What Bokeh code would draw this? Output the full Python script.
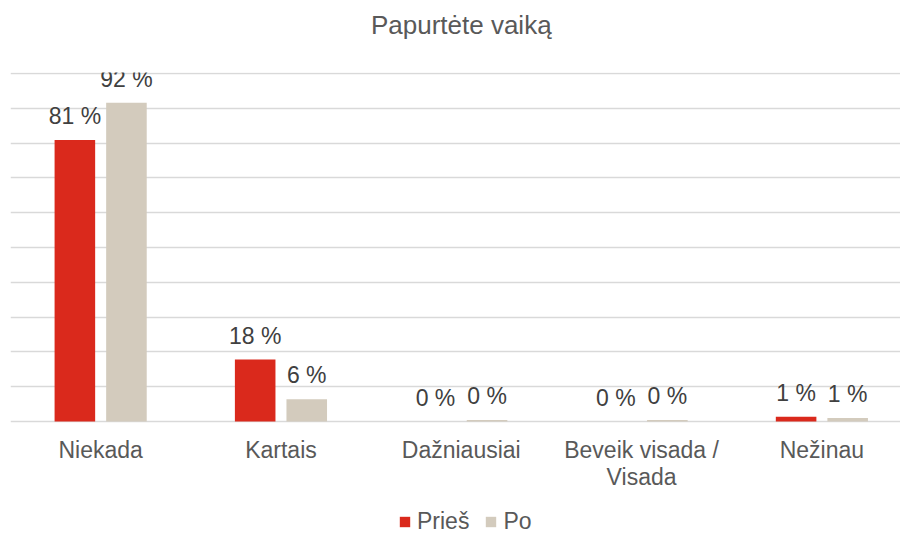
from bokeh.plotting import figure
from bokeh.layouts import column
from bokeh.models import Range1d, FixedTicker, ColumnDataSource, Legend, LegendItem, Label
from bokeh.transform import dodge
from bokeh.core.properties import value
from bokeh.embed import file_html
from bokeh.resources import INLINE

# ---- data ----
title_text = "Papurtėte vaiką"
categories = ["Niekada", "Kartais", "Dažniausiai", "Beveik visada /\nVisada", "Nežinau"]
series_names = ["Prieš", "Po"]
pries = [80.9, 17.8, 0.0, 0.0, 1.4]
po = [91.6, 6.4, 0.4, 0.4, 1.0]
grid_ticks = [0, 10, 20, 30, 40, 50, 60, 70, 80, 90, 100]

# ---- style ----
RED = "#DA291C"
BEIGE = "#D3CBBD"
FONT = "Liberation Sans"
TXT = "#595959"
LBL = "#404040"

idx = list(range(len(categories)))
src = ColumnDataSource(dict(
    x=idx,
    pries=pries,
    po=po,
    pries_lbl=[f"{round(v)} %" for v in pries],
    po_lbl=[f"{round(v)} %" for v in po],
))

xr = Range1d(-0.5, 4.436)

# ---- title strip ----
tt = figure(width=900, height=45, x_range=xr, y_range=Range1d(0, 1),
            output_backend="svg", toolbar_location=None,
            x_axis_location=None, y_axis_location=None,
            min_border_left=10, min_border_right=0, min_border_top=0, min_border_bottom=0)
tt.outline_line_color = None
tt.grid.visible = False
tt.add_layout(Label(x=(len(categories) - 1) / 2, y=21, y_units="screen", text=title_text,
                    text_align="center", text_baseline="middle",
                    text_font=FONT, text_font_size="26px", text_color=TXT))

# ---- main chart ----
p = figure(width=900, height=460, x_range=xr, y_range=Range1d(-2.01, 100.29),
           output_backend="svg", toolbar_location=None, y_axis_location=None,
           min_border_left=10, min_border_right=0, min_border_top=27, min_border_bottom=77)
p.outline_line_color = None
p.background_fill_color = "white"
p.border_fill_color = "white"
p.xgrid.visible = False
p.ygrid.ticker = FixedTicker(ticks=grid_ticks)
p.ygrid.grid_line_color = "#D9D9D9"
p.ygrid.grid_line_width = 1.5

off = 0.143
bw = 0.225
r1 = p.vbar(x=dodge("x", -off), top="pries", bottom=0, width=bw, source=src,
            fill_color=RED, line_color=None)
r2 = p.vbar(x=dodge("x", off), top="po", bottom=0, width=bw, source=src,
            fill_color=BEIGE, line_color=None)

for col, lblcol, o in (("pries", "pries_lbl", -off), ("po", "po_lbl", off)):
    p.text(x=dodge("x", o), y=col, text=lblcol, source=src,
           text_align="center", text_baseline="alphabetic", y_offset=-24,
           text_font=value(FONT), text_font_size="23px", text_color=LBL)

ax = p.xaxis[0]
ax.ticker = FixedTicker(ticks=idx)
ax.major_label_overrides = {i: c for i, c in zip(idx, categories)}
ax.axis_line_color = None
ax.major_tick_line_color = None
ax.minor_tick_line_color = None
ax.major_tick_out = 0
ax.major_tick_in = 0
ax.major_label_standoff = 8
ax.major_label_text_font = FONT
ax.major_label_text_font_size = "23px"
ax.major_label_text_color = TXT
ax.major_label_text_line_height = 1.05

# ---- legend strip below the chart ----
lg = figure(width=900, height=30, x_range=Range1d(0, 1), y_range=Range1d(0, 1),
            output_backend="svg", toolbar_location=None,
            x_axis_location=None, y_axis_location=None,
            min_border_left=0, min_border_right=0, min_border_top=0, min_border_bottom=0)
lg.outline_line_color = None
lg.grid.visible = False
offscreen = ColumnDataSource(dict(x=[-10], top=[-10]))
d1 = lg.vbar(x="x", top="top", width=0.1, source=offscreen, fill_color=RED, line_color=None)
d2 = lg.vbar(x="x", top="top", width=0.1, source=offscreen, fill_color=BEIGE, line_color=None)
legend = Legend(items=[LegendItem(label=series_names[0], renderers=[d1]),
                       LegendItem(label=series_names[1], renderers=[d2])],
                orientation="horizontal", location=(388, 0),
                padding=0, margin=0, spacing=15, label_standoff=6,
                glyph_width=13, glyph_height=13,
                border_line_color=None, background_fill_alpha=0,
                label_text_font=FONT, label_text_font_size="23px",
                label_text_color=TXT)
lg.add_layout(legend)

open("out.html", "w").write(file_html(column(tt, p, lg, spacing=0), INLINE))
